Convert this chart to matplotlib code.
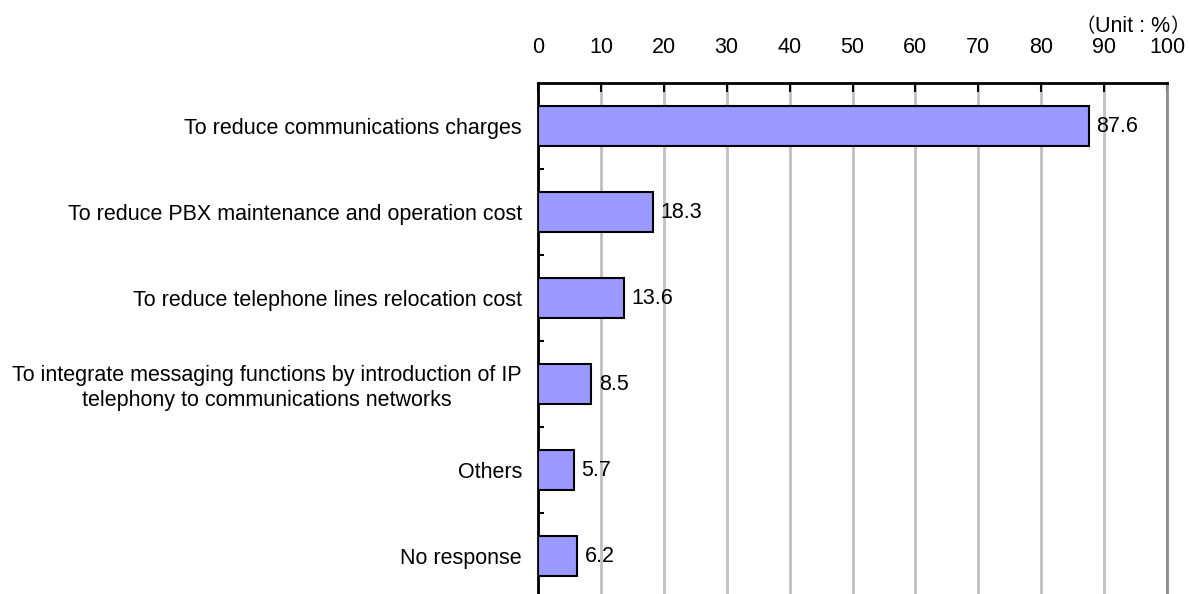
import matplotlib
matplotlib.use("Agg")
import matplotlib.pyplot as plt

categories = [
    "To reduce communications charges",
    "To reduce PBX maintenance and operation cost",
    "To reduce telephone lines relocation cost",
    "To integrate messaging functions by introduction of IP\ntelephony to communications networks",
    "Others",
    "No response",
]
values = [87.6, 18.3, 13.6, 8.5, 5.7, 6.2]
xticks = [0, 10, 20, 30, 40, 50, 60, 70, 80, 90, 100]

plt.rcParams['font.family'] = ['Liberation Sans', 'Noto Sans CJK JP', 'DejaVu Sans']
FS = 15.5

fig = plt.figure(figsize=(11.89, 5.94), dpi=100)
ax = fig.add_axes([538/1189, -5/594, 629/1189, 516/594])

n = len(categories)
ypos = list(range(n))
ax.barh(ypos, values, height=0.47, color='#9999FF', edgecolor='black', linewidth=1.5, zorder=3)
for y, v in zip(ypos, values):
    ax.text(v + 1.2, y, f"{v:.1f}", va='center', ha='left', fontsize=FS, zorder=4)

ax.set_xlim(0, 100)
ax.set_ylim(n - 0.5, -0.5)
ax.xaxis.tick_top()
ax.set_xticks(xticks)
ax.set_xticklabels([str(t) for t in xticks], fontsize=FS)
ax.tick_params(axis='x', direction='in', length=6.5, width=1.5, pad=18)
ax.grid(axis='x', color='#C0C0C0', linewidth=2, zorder=0)

ax.set_yticks(ypos)
ax.set_yticklabels(categories, fontsize=FS, ha='right', multialignment='center')
ax.tick_params(axis='y', which='major', length=0, pad=11.5)
ax.set_yticks([i + 0.5 for i in range(n - 1)], minor=True)
ax.tick_params(axis='y', which='minor', direction='in', length=4.5, width=1.5)

ax.spines['bottom'].set_visible(False)
ax.spines['right'].set_color('#8C8C8C')
ax.spines['right'].set_linewidth(2)
ax.spines['left'].set_linewidth(2)
ax.spines['top'].set_linewidth(2)

t2 = fig.text(1170/1189, 1 - 27/594, "Unit : %", ha='right', va='center', fontsize=FS)
t1 = ax.annotate("（", xy=(0, 0.5), xycoords=t2, ha='right', va='center',
                 fontsize=14, family=['Noto Sans CJK JP'], annotation_clip=False)
t3 = ax.annotate("）", xy=(1, 0.5), xycoords=t2, ha='left', va='center',
                 fontsize=14, family=['Noto Sans CJK JP'], annotation_clip=False)

fig.savefig("out.png", dpi=100)
